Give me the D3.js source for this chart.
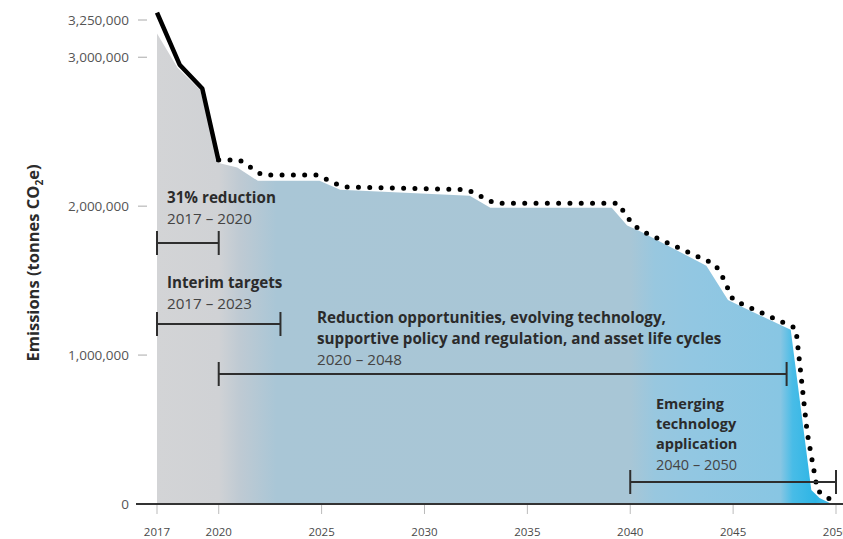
<!DOCTYPE html>
<html>
<head>
<meta charset="utf-8">
<script src="https://cdn.jsdelivr.net/npm/d3@7"></script>
<style>
  html, body { margin: 0; padding: 0; background: #fff; overflow: hidden; }
  svg { display: block; }
  text { font-family: "Open Sans", "DejaVu Sans", sans-serif; }
</style>
</head>
<body>
<div id="chart"></div>
<script>
// 数据：数值
const xTicks = [2017, 2020, 2025, 2030, 2035, 2040, 2045, 2050];
const yTicks = [0, 1000000, 2000000, 3000000, 3250000];

// 实线（2017-2020 实际排放）
const actualYears = [2017, 2018.1, 2019.2, 2020];
const actualValues = [3300000, 2950000, 2790000, 2300000];

// 虚线（减排路径）
const pathYears = [2020, 2021, 2022.1, 2024.8, 2026, 2032.1, 2033.4, 2039.4, 2040.1, 2040.6, 2044.1, 2044.4, 2045, 2048.05, 2048.6, 2049.1, 2050];
const pathValues = [2310000, 2310000, 2210000, 2210000, 2130000, 2110000, 2020000, 2020000, 1880000, 1830000, 1610000, 1550000, 1370000, 1180000, 480000, 90000, 5000];

// 面积
const areaYears = [2017, 2018, 2019.1, 2020, 2020.9, 2021.9, 2024.9, 2025.9, 2032.2, 2033.2, 2039.1, 2039.85, 2040.5, 2043.7, 2044.75, 2045.5, 2047.8, 2048.8, 2049.2, 2049.7];
const areaValues = [3160000, 2930000, 2780000, 2290000, 2260000, 2170000, 2170000, 2110000, 2070000, 1990000, 1990000, 1870000, 1830000, 1600000, 1370000, 1320000, 1170000, 94000, 40000, 7000];

// 注释区间
const rangeTitles = [["31% reduction"], ["Interim targets"],
  ["Reduction opportunities, evolving technology,", "supportive policy and regulation, and asset life cycles"],
  ["Emerging", "technology", "application"]];
const rangeLabels = ["2017 – 2020", "2017 – 2023", "2020 – 2048", "2040 – 2050"];
const rangeStart = [2017, 2017, 2020, 2040];
const rangeEnd = [2020, 2023, 2047.6, 2050];

const width = 843, height = 539;

const svg = d3.select("#chart").append("svg")
    .attr("width", width)
    .attr("height", height);

const x = d3.scaleLinear().domain([2017, 2050]).range([157, 836]);
const y = d3.scaleLinear().domain([0, 3250000]).range([504, 20]);

// 渐变填充
const defs = svg.append("defs");
const grad = defs.append("linearGradient")
    .attr("id", "areaGrad")
    .attr("gradientUnits", "userSpaceOnUse")
    .attr("x1", x(2017)).attr("x2", x(2050))
    .attr("y1", 0).attr("y2", 0);
[
  [2017, "#d3d4d6"], [2020, "#d0d2d5"], [2021, "#bfcad3"], [2022.8, "#a9c6d6"],
  [2040, "#a8c6d6"], [2041.2, "#98c7df"], [2043, "#92c7e2"], [2047.3, "#88c6e3"],
  [2047.9, "#48bce7"], [2049, "#2db5e5"], [2050, "#5cc2ea"]
].forEach(([yr, c]) => {
  grad.append("stop")
      .attr("offset", (x(yr) - x(2017)) / (x(2050) - x(2017)))
      .attr("stop-color", c);
});

const areaData = areaYears.map((d, i) => ({ year: d, value: areaValues[i] }));
svg.append("path")
    .datum(areaData)
    .attr("fill", "url(#areaGrad)")
    .attr("d", d3.area()
        .x(d => x(d.year))
        .y0(y(0))
        .y1(d => y(d.value)));

// 实线
const actualData = actualYears.map((d, i) => ({ year: d, value: actualValues[i] }));
svg.append("path")
    .datum(actualData)
    .attr("fill", "none")
    .attr("stroke", "#000")
    .attr("stroke-width", 4.5)
    .attr("stroke-linejoin", "round")
    .attr("d", d3.line().x(d => x(d.year)).y(d => y(d.value)));

// 虚线（圆点）
const pathData = pathYears.map((d, i) => ({ year: d, value: pathValues[i] }));
svg.append("path")
    .datum(pathData)
    .attr("fill", "none")
    .attr("stroke", "#000")
    .attr("stroke-width", 5)
    .attr("stroke-linecap", "round")
    .attr("stroke-dasharray", "0 11.3")
    .attr("d", d3.line().x(d => x(d.year)).y(d => y(d.value)));

// Y 轴
const yAxis = svg.append("g");
yTicks.forEach(t => {
  yAxis.append("line")
      .attr("x1", 138).attr("x2", 147)
      .attr("y1", y(t)).attr("y2", y(t))
      .attr("stroke", "#aaa").attr("stroke-width", 1);
  yAxis.append("text")
      .attr("x", 129).attr("y", y(t))
      .attr("dy", "0.35em")
      .attr("text-anchor", "end")
      .attr("font-size", 13.5)
      .attr("fill", "#555")
      .text(d3.format(",")(t));
});

const yTitle = svg.append("text")
    .attr("transform", "translate(39,263) rotate(-90)")
    .attr("text-anchor", "middle")
    .attr("font-size", 16.5)
    .attr("font-weight", "bold")
    .attr("fill", "#2b2b2b");
yTitle.append("tspan").text("Emissions (tonnes CO");
yTitle.append("tspan").attr("font-size", 10).attr("dy", 4).text("2");
yTitle.append("tspan").attr("dy", -4).text("e)");

// X 轴
const xAxis = svg.append("g");
xTicks.forEach(t => {
  xAxis.append("line")
      .attr("x1", x(t)).attr("x2", x(t))
      .attr("y1", 505).attr("y2", 514)
      .attr("stroke", "#bbb").attr("stroke-width", 1);
  xAxis.append("text")
      .attr("x", x(t)).attr("y", 536)
      .attr("text-anchor", "middle")
      .attr("font-size", 11.5)
      .attr("fill", "#4a4a4a")
      .text(t);
});
xAxis.append("line")
    .attr("x1", 136).attr("x2", width)
    .attr("y1", y(0)).attr("y2", y(0))
    .attr("stroke", "#333").attr("stroke-width", 2);

// 注释
const titleBase = [203, 288, 323, 409];
const barY = [243, 324, 374, 482];
const textX = [167, 167, 317, 656];

rangeTitles.forEach((lines, i) => {
  const g = svg.append("g");
  const gap = i === 3 ? 20 : 20.5;
  const fs = i === 3 ? 14.5 : 15.2;
  lines.forEach((ln, j) => {
    g.append("text")
        .attr("x", textX[i])
        .attr("y", titleBase[i] + j * gap)
        .attr("font-size", fs)
        .attr("font-weight", "bold")
        .attr("fill", "#2b2b2b")
        .text(ln);
  });
  const labelY = titleBase[i] + (lines.length - 1) * gap + 21;
  g.append("text")
      .attr("x", textX[i])
      .attr("y", labelY)
      .attr("font-size", fs)
      .attr("fill", "#444")
      .text(rangeLabels[i]);

  const x0 = x(rangeStart[i]), x1 = x(rangeEnd[i]), by = barY[i];
  g.append("line")
      .attr("x1", x0).attr("x2", x1).attr("y1", by).attr("y2", by)
      .attr("stroke", "#2e2e2e").attr("stroke-width", 2);
  [x0, x1].forEach(cx => {
    g.append("line")
        .attr("x1", cx).attr("x2", cx)
        .attr("y1", by - 12).attr("y2", by + 12)
        .attr("stroke", "#2e2e2e").attr("stroke-width", 2);
  });
});
</script>
</body>
</html>
